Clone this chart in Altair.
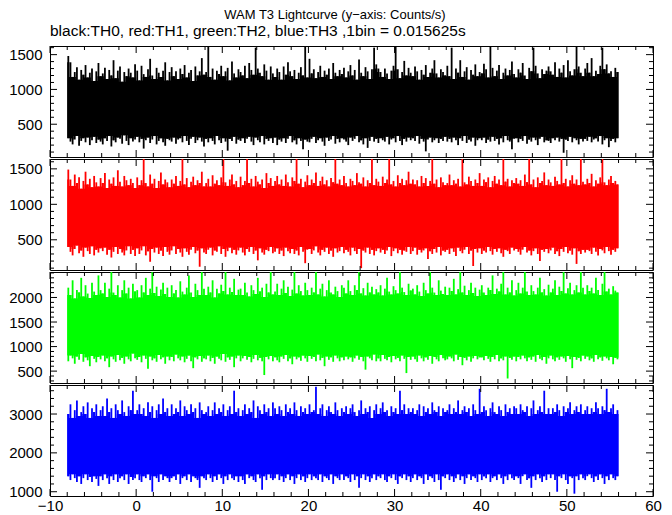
import altair as alt
import pandas as pd

TITLE = "WAM T3 Lightcurve (y\u2212axis: Counts/s)"
SUBTITLE = "black:TH0, red:TH1, green:TH2, blue:TH3 ,1bin = 0.015625s"

T_START = -8.0   # first time bin (s)
STEP = 0.25      # envelope sampling step (s)

X_DOMAIN = [-10, 60]
X_MAJOR = [-10, 0, 10, 20, 30, 40, 50, 60]
X_MINOR = [v for v in range(-10, 61, 2) if v % 10 != 0]

# ---- TH0 (black): max / min of the light curve in each 0.25 s slice
hi0 = [1480,1390,1180,1250,1320,1140,1280,1210,1350,1170,1240,1300,1120,1260,1380,1190,
       1230,1310,1150,1280,1200,1420,1160,1270,1330,1110,1250,1190,1300,1240,1170,1360,
       1270,1130,1340,1220,1180,1290,1440,1200,1150,1310,1240,1180,1270,1390,1130,1250,
       1320,1190,1260,1150,1300,1220,1350,1170,1240,1280,1120,1330,1200,1260,1450,1210,
       1250,1610,1180,1300,1140,1270,1220,1340,1190,1260,1310,1130,1400,1230,1170,1290,
       1250,1200,1340,1160,1380,1280,1210,1600,1300,1240,1190,1360,1270,1140,1330,1230,
       1180,1300,1250,1140,1330,1210,1390,1260,1190,1280,1150,1240,1320,1200,1610,1170,
       1440,1230,1290,1160,1250,1340,1180,1270,1210,1300,1150,1380,1240,1190,1280,1220,
       1310,1170,1260,1350,1200,1280,1140,1430,1240,1190,1320,1260,1150,1290,1600,1360,
       1300,1250,1180,1300,1230,1150,1270,1340,1610,1290,1160,1250,1410,1200,1310,1240,
       1190,1330,1260,1140,1280,1210,1350,1180,1240,1300,1420,1230,1170,1290,1250,1200,
       1340,1190,1600,1150,1300,1240,1420,1180,1260,1320,1140,1280,1210,1360,1190,1250,
       1230,1370,1290,1170,1610,1310,1190,1270,1350,1150,1240,1300,1200,1280,1400,1220,
       1170,1290,1240,1380,1200,1150,1310,1260,1600,1340,1230,1160,1290,1220,1270,1330,
       1260,1210,1390,1180,1300,1240,1350,1170,1420,1260,1200,1290,1620,1330,1240,1190,
       1300,1380,1240,1450,1190,1270,1220,1340,1600,1290,1360,1230,1260,1180,1310,1250]
lo0 = [300,250,210,280,330,190,260,300,240,310,200,270,320,230,280,250,
       210,300,260,330,180,270,240,310,290,220,340,260,200,300,250,280,
       320,240,290,150,270,310,230,280,330,210,260,300,240,190,290,270,
       250,310,220,280,300,240,330,260,200,290,320,230,270,310,250,180,
       290,240,300,260,210,330,270,230,300,250,120,290,260,320,220,280,
       260,300,230,290,320,250,200,310,270,240,330,210,290,260,300,230,
       310,200,280,250,300,230,290,330,240,270,210,300,260,140,280,250,
       240,290,320,230,270,300,250,190,310,260,280,330,220,290,240,300,
       280,250,200,310,260,290,330,240,270,210,300,160,260,320,250,290,
       230,300,270,250,320,210,280,300,240,330,260,200,290,250,310,270,
       300,260,330,220,290,250,110,280,310,240,270,300,230,290,260,320,
       250,290,240,310,270,200,300,260,330,230,280,250,310,190,270,300,
       270,310,230,280,250,320,260,290,210,300,240,330,270,250,140,290,
       300,240,290,260,330,220,280,250,310,270,200,290,320,240,270,260,
       230,300,270,310,250,290,90,280,260,320,240,300,270,210,290,250,
       290,260,320,240,280,300,250,330,210,270,300,170,260,290,240,300]

# ---- TH1 (red)
hi1 = [1490,1350,1260,1420,1300,1380,1220,1330,1460,1280,1360,1240,1400,1310,1250,1370,
       1300,1440,1230,1350,1290,1380,1260,1480,1320,1250,1400,1340,1270,1360,1300,1230,
       1380,1270,1340,1640,1300,1250,1420,1290,1360,1230,1330,1450,1280,1350,1310,1240,
       1350,1290,1400,1260,1330,1640,1280,1370,1240,1320,1390,1270,1340,1300,1460,1250,
       1300,1360,1250,1410,1290,1340,1270,1380,1640,1310,1260,1350,1420,1280,1330,1240,
       1390,1270,1330,1640,1300,1360,1250,1400,1320,1280,1350,1230,1440,1300,1370,1260,
       1330,1400,1280,1350,1260,1420,1310,1250,1380,1330,1640,1290,1360,1240,1320,1410,
       1270,1350,1300,1450,1260,1330,1390,1280,1340,1250,1370,1310,1640,1290,1350,1270,
       1400,1300,1250,1360,1330,1270,1440,1310,1290,1380,1250,1340,1300,1640,1270,1360,
       1320,1260,1390,1300,1350,1640,1280,1330,1250,1410,1300,1360,1270,1340,1460,1290,
       1350,1280,1340,1250,1400,1300,1370,1260,1330,1640,1290,1350,1240,1380,1310,1270,
       1300,1420,1270,1340,1290,1360,1250,1640,1310,1280,1390,1330,1260,1350,1300,1440,
       1260,1350,1310,1380,1240,1330,1400,1290,1350,1270,1640,1320,1360,1250,1340,1300,
       1370,1290,1340,1260,1420,1310,1640,1280,1350,1240,1380,1300,1330,1450,1270,1350,
       1310,1260,1390,1330,1280,1640,1300,1360,1250,1340,1410,1290,1350,1270,1640,1320,
       1280,1360,1300,1430,1250,1340,1290,1380,1640,1310,1270,1350,1400,1300,1330,1280]
lo1 = [400,330,280,370,420,310,350,260,390,340,300,410,280,360,320,380,
       340,390,290,360,250,330,400,300,370,320,280,350,410,300,360,270,
       380,300,350,410,280,340,190,370,320,390,300,350,270,400,330,290,
       350,410,300,370,320,260,380,330,290,360,400,310,350,120,380,320,
       300,360,390,280,350,330,410,300,370,260,340,390,310,360,290,350,
       390,320,280,370,330,400,300,350,210,380,320,290,360,340,400,310,
       330,380,300,350,270,390,340,310,370,300,350,280,400,330,170,360,
       370,300,350,410,320,280,360,330,390,300,350,260,380,320,340,400,
       310,360,330,280,390,340,300,370,100,350,320,390,300,360,280,340,
       380,320,360,300,350,400,270,340,380,310,360,290,350,330,400,300,
       340,390,290,360,320,350,380,230,340,300,370,320,400,280,350,330,
       360,300,380,330,270,390,340,310,360,400,300,350,130,370,320,380,
       300,350,320,400,340,290,370,330,380,310,260,360,340,300,390,350,
       370,330,290,360,400,320,350,280,340,380,300,200,360,330,370,310,
       350,390,300,340,270,370,330,400,310,350,290,380,160,340,300,360,
       320,360,340,300,390,330,280,370,350,310,400,340,290,360,330,380]

# ---- TH2 (green)
hi2 = [2200,2050,2350,1980,2150,2100,2400,2020,2250,2080,1990,2300,2120,2050,2450,2150,
       2080,2300,2010,2180,2519,2100,2050,2250,2000,2150,2350,2080,2200,1980,2280,2120,
       2150,2000,2250,2100,2400,2050,2180,2519,2090,2220,2030,2160,2300,2070,2200,2010,
       2250,2080,2150,2000,2330,2120,2060,2200,2450,2100,2010,2280,2150,2050,2519,2180,
       2050,2220,2100,2350,2000,2180,2080,2260,2130,2519,2060,2200,2110,2380,2050,2160,
       2180,2050,2300,2100,2020,2250,2150,2070,2400,2120,2200,2010,2280,2100,2519,2060,
       2120,2280,2050,2180,2350,2090,2220,2030,2160,2519,2080,2250,2130,2040,2300,2150,
       2050,2200,2100,2519,2060,2180,2280,2020,2150,2350,2100,2060,2220,2130,2010,2250,
       2200,2080,2350,2130,2050,2250,2150,2519,2080,2190,2040,2300,2100,2220,2060,2170,
       2100,2250,2040,2180,2400,2120,2060,2230,2150,2080,2519,2200,2110,2050,2280,2140,
       2180,2060,2250,2120,2030,2300,2150,2080,2519,2200,2100,2050,2350,2140,2070,2220,
       2050,2200,2130,2380,2060,2170,2519,2100,2240,2050,2150,2300,2090,2200,2030,2160,
       2250,2100,2050,2200,2150,2450,2070,2180,2120,2280,2519,2060,2200,2100,2350,2040,
       2150,2300,2080,2200,2519,2120,2050,2250,2130,2060,2200,2400,2100,2170,2040,2260,
       2100,2180,2350,2050,2220,2130,2519,2080,2190,2300,2060,2150,2250,2100,2519,2200,
       2060,2250,2130,2200,2080,2400,2150,2050,2280,2519,2120,2180,2060,2230,2140,2100]
lo2 = [700,820,760,650,800,730,850,690,780,720,600,810,750,680,790,740,
       820,700,760,580,800,740,690,830,720,770,650,800,740,700,860,760,
       730,790,680,820,750,550,800,720,760,690,830,740,780,650,800,720,
       790,700,840,760,720,800,680,750,820,700,560,780,740,810,690,760,
       740,820,700,770,650,800,750,720,850,690,780,730,800,580,760,820,
       700,760,810,730,790,680,750,830,720,770,700,420,790,740,810,700,
       780,720,680,800,750,830,700,760,640,800,740,780,710,820,760,690,
       810,750,790,700,840,720,770,600,800,730,780,690,820,760,700,780,
       720,800,740,780,690,760,820,730,790,700,530,800,760,720,840,700,
       760,700,830,750,720,790,680,810,740,770,700,820,750,460,790,730,
       800,740,690,820,760,700,780,730,810,650,790,740,700,830,760,720,
       740,800,760,700,840,730,790,620,770,720,800,690,760,810,740,780,
       780,720,810,750,690,790,740,830,700,760,720,800,350,770,730,800,
       700,790,740,820,760,700,780,730,800,690,830,750,720,790,650,760,
       820,740,700,780,730,800,760,690,810,740,560,790,730,770,700,820,
       750,800,720,760,690,830,740,780,710,800,760,720,790,640,770,740]

# ---- TH3 (blue)
hi3 = [3000,3250,2900,3100,3350,2950,3050,3200,3000,3300,2900,3150,3050,3250,2950,3100,
       3200,2950,3400,3050,3150,2900,3250,3100,3000,3350,3050,2950,3200,3100,3600,3000,
       3100,3250,3000,3150,2950,3300,3050,3200,2900,3100,3250,3000,3400,3050,3150,2950,
       3250,3000,3150,3050,3350,2950,3200,3100,3000,3250,3050,3150,2900,3300,3100,3000,
       3050,3200,2950,3100,3300,3000,3150,3050,3250,2950,3100,3200,3000,3600,3050,3150,
       2950,3100,3250,3000,3150,3050,3350,2900,3200,3100,3000,3250,3050,3150,2950,3300,
       3150,3000,3200,3100,2950,3250,3050,3150,3000,3300,3100,2950,3200,3050,3150,3000,
       3250,3050,3100,3700,3000,3150,3250,2950,3100,3200,3050,3000,3300,3100,2950,3150,
       3050,3200,3000,3150,3250,3050,2950,3100,3350,3000,3150,3050,3200,2900,3100,3250,
       3000,3150,3300,3050,3100,2950,3200,3050,3150,3000,3600,3100,3250,3000,3150,3050,
       3150,3000,3100,3250,2950,3200,3050,3150,3000,3300,3100,3050,3200,2950,3150,3050,
       3100,3250,3000,3150,3050,3350,3000,3100,3200,3050,3150,2950,3250,3100,3000,3650,
       3050,3200,3100,2950,3150,3300,3050,3000,3200,3100,2950,3250,3050,3150,3000,3200,
       3150,3000,3250,3100,3050,3200,2950,3150,3350,3000,3100,3200,3050,3600,3000,3150,
       3000,3150,3050,3250,3100,2950,3200,3050,3150,3300,3000,3100,3200,3050,3250,3000,
       3100,3200,3000,3150,3050,3300,3150,3000,3200,3100,3650,3050,3150,3250,3000,3100]
lo3 = [1400,1300,1450,1350,1250,1400,1200,1350,1450,1300,1380,1250,1400,1330,1150,1400,
       1300,1450,1350,1200,1400,1300,1450,1250,1350,1400,1300,1450,1200,1380,1300,1350,
       1450,1300,1250,1400,1350,1450,1300,1000,1400,1350,1250,1450,1300,1400,1350,1250,
       1350,1400,1300,1450,1200,1350,1400,1300,1450,1250,1400,1350,1300,1100,1400,1350,
       1300,1450,1350,1250,1400,1300,1450,1350,1200,1400,1300,1450,1350,1300,1400,1250,
       1400,1300,1200,1450,1350,1400,1300,1250,1450,1350,1050,1400,1300,1450,1350,1300,
       1350,1450,1300,1400,1250,1350,1450,1300,1400,1200,1350,1450,1300,1400,1250,1350,
       1450,1300,1400,1350,1300,1450,1250,1400,1350,1300,1450,1200,1400,1350,1300,1450,
       1300,1400,1350,1250,1450,1300,1400,1100,1350,1450,1300,1400,1250,1350,1450,1300,
       1400,1350,1450,1300,1250,1400,1350,1450,1300,1200,1400,1350,1450,1300,1400,1250,
       1350,1450,1300,1400,1350,1200,1450,1300,1400,1350,1250,1450,1300,1050,1400,1350,
       1450,1300,1400,1250,1350,1450,1300,1400,1200,1350,1450,1300,1400,1350,1250,1450,
       1300,1400,1350,1450,1250,1350,1400,1300,1450,1350,1200,1400,1300,1450,1350,1300,
       1400,1350,1200,1400,1450,1300,1350,1100,1400,1300,1450,1350,1250,1400,1300,1450,
       1350,1450,1300,1000,1400,1350,1450,1300,1200,1400,1350,950,1400,1300,1450,1350,
       1300,1400,1450,1350,1250,1400,1300,1450,1350,1200,1400,1300,1450,1350,1300,1400]

PANELS = [
    dict(hi=hi0, lo=lo0, color="#000000", domain=[29, 1624], major=[500, 1000, 1500], minor_step=100),
    dict(hi=hi1, lo=lo1, color="#ff0000", domain=[74, 1639], major=[500, 1000, 1500], minor_step=100),
    dict(hi=hi2, lo=lo2, color="#00ff00", domain=[258, 2519], major=[500, 1000, 1500, 2000], minor_step=100),
    dict(hi=hi3, lo=lo3, color="#0000ff", domain=[890, 3747], major=[1000, 2000, 3000], minor_step=200),
]

W = 603
H = 111
FONT = "Liberation Sans"
MAJ = 7
MIN = 4


def panel(p, bottom):
    hi, lo = p["hi"], p["lo"]
    n = min(len(hi), len(lo))
    # filled core of the band: the slice envelope eroded over its neighbours
    core_hi = [min(hi[max(i - 1, 0):i + 2]) for i in range(n)]
    core_lo = [max(lo[max(i - 1, 0):i + 2]) for i in range(n)]
    band = pd.DataFrame({
        "t": [T_START + STEP * i for i in range(n + 1)],
        "hi": core_hi + [core_hi[-1]],
        "lo": core_lo + [core_lo[-1]],
    })
    needles = pd.DataFrame({
        "t": [T_START + STEP * (i + 0.5) for i in range(n)],
        "hi": hi[:n],
        "lo": lo[:n],
    })
    xs = alt.Scale(domain=X_DOMAIN, nice=False, zero=False)
    ys = alt.Scale(domain=p["domain"], nice=False, zero=False)
    if bottom:
        xaxis = alt.Axis(values=X_MAJOR, title=None, ticks=False, domain=False, grid=False,
                         labelFontSize=15, labelPadding=2, labelColor="black", labelFont=FONT,
                         labelFlush=False, format="d")
    else:
        xaxis = None
    yaxis = alt.Axis(values=p["major"], title=None, ticks=False, domain=False, grid=False,
                     labelFontSize=15, labelPadding=8, labelColor="black", labelFont=FONT,
                     format="d")

    area = alt.Chart(band).mark_area(color=p["color"], interpolate="step-after", clip=True).encode(
        x=alt.X("t:Q", scale=xs, axis=xaxis),
        y=alt.Y("lo:Q", scale=ys, axis=yaxis),
        y2="hi:Q",
    )
    spikes = alt.Chart(needles).mark_rule(color=p["color"], strokeWidth=1.8, clip=True).encode(
        x=alt.X("t:Q", scale=xs, axis=xaxis),
        y=alt.Y("lo:Q", scale=ys, axis=yaxis),
        y2="hi:Q",
    )

    lo_d, hi_d = p["domain"]
    s = p["minor_step"]
    y_minor = [v for v in range(s * ((lo_d // s) + 1), hi_d + 1, s) if v not in p["major"]]

    layers = [area, spikes]
    for vals, L in ((X_MAJOR, MAJ), (X_MINOR, MIN)):
        d = pd.DataFrame({"v": vals})
        base = alt.Chart(d).mark_rule(color="black", strokeWidth=1)
        layers.append(base.encode(x=alt.X("v:Q", scale=xs, axis=xaxis), y=alt.value(0), y2=alt.value(L)))
        layers.append(base.encode(x=alt.X("v:Q", scale=xs, axis=xaxis), y=alt.value(H), y2=alt.value(H - L)))
    for vals, L in ((p["major"], MAJ), (y_minor, MIN)):
        d = pd.DataFrame({"v": vals})
        base = alt.Chart(d).mark_rule(color="black", strokeWidth=1)
        layers.append(base.encode(y=alt.Y("v:Q", scale=ys, axis=yaxis), x=alt.value(0), x2=alt.value(L)))
        layers.append(base.encode(y=alt.Y("v:Q", scale=ys, axis=yaxis), x=alt.value(W), x2=alt.value(W - L)))

    return alt.layer(*layers).properties(width=W, height=H)


charts = [panel(p, i == len(PANELS) - 1) for i, p in enumerate(PANELS)]
charts[0] = charts[0].properties(
    title=alt.TitleParams(SUBTITLE, anchor="start", frame="group", fontSize=15.5, font=FONT,
                          fontWeight="normal", color="black", offset=6)
)

chart = alt.vconcat(*charts, spacing=0).properties(
    title=alt.TitleParams(TITLE, anchor="middle", fontSize=13, font=FONT, fontWeight="normal",
                          color="black", offset=4, dy=2),
    padding=0,
).configure_view(stroke="black", strokeWidth=1).configure_concat(spacing=0)

chart.save("out.html", embed_options={"renderer": "svg", "actions": False})
